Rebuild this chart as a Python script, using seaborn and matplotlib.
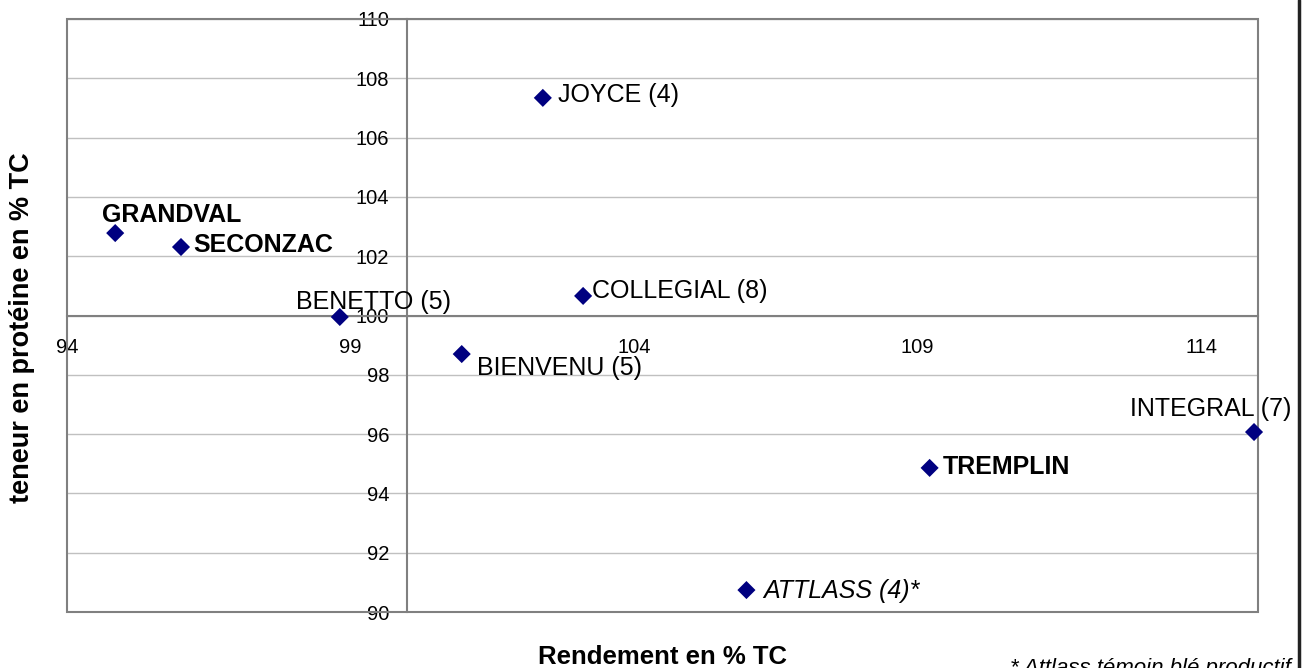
import matplotlib
matplotlib.use("Agg")
import matplotlib.pyplot as plt
import pandas as pd
import seaborn as sns
from matplotlib.patches import Rectangle
from matplotlib.lines import Line2D

varietes = ["GRANDVAL", "SECONZAC", "BENETTO (5)", "BIENVENU (5)", "COLLEGIAL (8)",
            "JOYCE (4)", "TREMPLIN", "ATTLASS (4)*", "INTEGRAL (7)"]
rendement = [94.85, 96.01, 98.81, 100.96, 103.10, 102.39, 109.21, 105.98, 114.93]
proteine = [102.78, 102.31, 99.95, 98.70, 100.66, 107.34, 94.86, 90.74, 96.07]
xticks = [94, 99, 104, 109, 114]
yticks = [90, 92, 94, 96, 98, 100, 102, 104, 106, 108, 110]

df = pd.DataFrame({"variete": varietes, "rendement": rendement, "proteine": proteine})

# label placement: (dx px, dy px, ha, weight, style) - baseline anchored
label_style = {
    "GRANDVAL": (-13, 11, "left", "bold", "normal"),
    "SECONZAC": (12, -5, "left", "bold", "normal"),
    "BENETTO (5)": (-44, 8, "left", "normal", "normal"),
    "BIENVENU (5)": (15, -21, "left", "normal", "normal"),
    "COLLEGIAL (8)": (9, -2, "left", "normal", "normal"),
    "JOYCE (4)": (15, -4, "left", "normal", "normal"),
    "TREMPLIN": (13, -6, "left", "bold", "normal"),
    "ATTLASS (4)*": (17, -8, "left", "normal", "italic"),
    "INTEGRAL (7)": (37, 16, "right", "normal", "normal"),
}

sns.set_style("white")
plt.rcParams["font.family"] = ["Liberation Sans", "DejaVu Sans"]
plt.rcParams["text.color"] = "black"
plt.rcParams["axes.labelcolor"] = "black"

fig = plt.figure(figsize=(13.05, 6.68), dpi=100)
ax = fig.add_axes([67 / 1305, 56 / 668, 1191 / 1305, 593 / 668])

sns.scatterplot(data=df, x="rendement", y="proteine", marker="D", s=85,
                color="#000080", edgecolor="none", ax=ax, zorder=5, clip_on=False)

ax.set_xlim(94, 115)
ax.set_ylim(90, 110)
ax.set_xticks(xticks)
ax.set_yticks(yticks)
ax.yaxis.grid(True, color="#c0c0c0", linewidth=1)
ax.xaxis.grid(False)

ax.spines["left"].set_position(("data", 100))
ax.spines["bottom"].set_position(("data", 100))
for s in ["left", "bottom"]:
    ax.spines[s].set_color("#808080")
    ax.spines[s].set_linewidth(1.5)
    ax.spines[s].set_zorder(3)
ax.spines["top"].set_visible(False)
ax.spines["right"].set_visible(False)
ax.add_patch(Rectangle((0, 0), 1, 1, transform=ax.transAxes, fill=False,
                       edgecolor="#808080", linewidth=1.5, clip_on=False, zorder=4))

ax.tick_params(axis="both", direction="out", length=4, width=1.2, color="#808080",
               labelsize=14.5, labelcolor="black")
ax.tick_params(axis="x", pad=12)
ax.tick_params(axis="y", pad=9)

for name, x, y in zip(varietes, rendement, proteine):
    dx, dy, ha, w, st = label_style[name]
    ax.annotate(name, (x, y), xytext=(dx, dy), textcoords="offset pixels",
                ha=ha, va="baseline", fontsize=18, fontweight=w, fontstyle=st,
                annotation_clip=False, zorder=6)

ax.set_xlabel("Rendement en % TC", fontsize=18.5, fontweight="bold")
ax.set_ylabel("teneur en protéine en % TC", fontsize=19.5, fontweight="bold")
ax.xaxis.set_label_coords(0.5, -0.055)
ax.yaxis.set_label_coords(-0.027, 0.48)

fig.text(1010 / 1305, -6 / 668, "* Attlass témoin blé productif", fontsize=16,
         fontstyle="italic", ha="left", va="baseline")
fig.add_artist(Line2D([1299 / 1305, 1299 / 1305], [0, 1], transform=fig.transFigure,
                      color="#222222", linewidth=2.5))

fig.savefig("out.png", dpi=100)
